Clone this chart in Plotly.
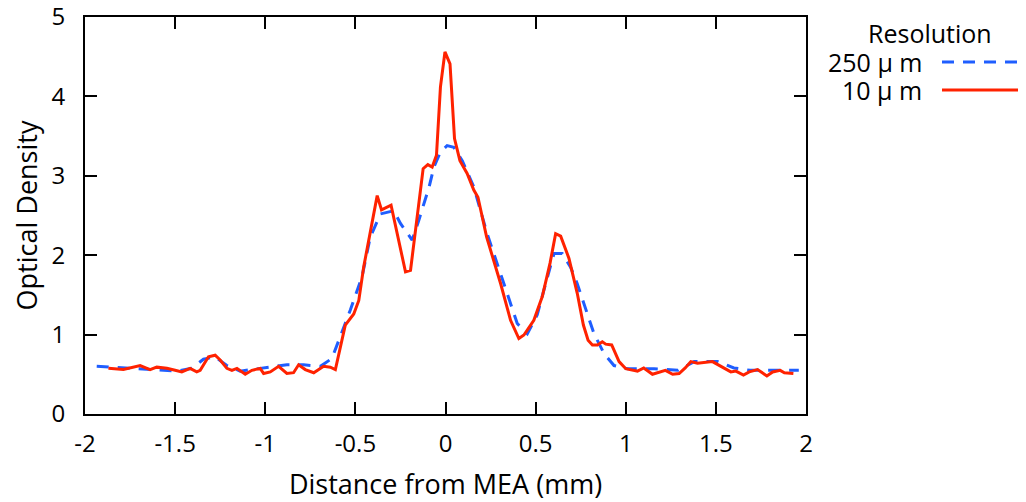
import plotly.graph_objects as go

# 10 um resolution profile (red)
x_10um = [-1.87, -1.787, -1.694, -1.639, -1.602, -1.546, -1.50, -1.463, -1.417, -1.38,
          -1.361, -1.315, -1.278, -1.25, -1.213, -1.185, -1.157, -1.111, -1.074, -1.028,
          -1.009, -0.972, -0.926, -0.88, -0.843, -0.815, -0.778, -0.731, -0.676, -0.639,
          -0.611, -0.556, -0.509, -0.481, -0.454, -0.379, -0.355, -0.302, -0.222, -0.194,
          -0.124, -0.098, -0.074, -0.05, -0.028, -0.003, 0.025, 0.05, 0.08, 0.12,
          0.157, 0.18, 0.228, 0.306, 0.361, 0.407, 0.435, 0.49, 0.537, 0.58,
          0.611, 0.639, 0.685, 0.731, 0.765, 0.791, 0.815, 0.843, 0.87, 0.889,
          0.922, 0.963, 1.0, 1.046, 1.065, 1.10, 1.148, 1.22, 1.26, 1.296,
          1.33, 1.361, 1.398, 1.481, 1.528, 1.583, 1.611, 1.653, 1.685, 1.731,
          1.783, 1.815, 1.857, 1.88, 1.93]
y_10um = [0.575, 0.56, 0.61, 0.56, 0.59, 0.575, 0.55, 0.53, 0.575, 0.53,
          0.55, 0.72, 0.74, 0.68, 0.575, 0.55, 0.575, 0.50, 0.55, 0.575,
          0.51, 0.53, 0.60, 0.51, 0.52, 0.62, 0.56, 0.52, 0.60, 0.59,
          0.56, 1.12, 1.26, 1.43, 1.85, 2.75, 2.57, 2.63, 1.79, 1.81,
          3.09, 3.14, 3.11, 3.26, 4.12, 4.56, 4.41, 3.47, 3.19, 3.03,
          2.82, 2.73, 2.23, 1.64, 1.18, 0.95, 0.995, 1.18, 1.48, 1.90,
          2.27, 2.24, 1.96, 1.52, 1.12, 0.93, 0.87, 0.87, 0.91, 0.88,
          0.87, 0.66, 0.57, 0.55, 0.54, 0.58, 0.50, 0.55, 0.50, 0.51,
          0.58, 0.66, 0.64, 0.66, 0.60, 0.53, 0.54, 0.49, 0.53, 0.56,
          0.48, 0.53, 0.55, 0.52, 0.51]

# 250 um resolution profile (blue dashed)
x_250um = [-1.935, -1.769, -1.491, -1.407, -1.343, -1.278, -1.213, -1.139, -1.028, -0.88,
           -0.787, -0.694, -0.63, -0.583, -0.528, -0.463, -0.417, -0.361, -0.287, -0.25,
           -0.185, -0.148, -0.091, -0.064, -0.028, 0.009, 0.046, 0.093, 0.157, 0.231,
           0.287, 0.343, 0.398, 0.454, 0.509, 0.565, 0.602, 0.648, 0.694, 0.731,
           0.769, 0.824, 0.88, 0.935, 1.009, 1.157, 1.29, 1.38, 1.51, 1.60,
           1.69, 1.96]
y_250um = [0.60, 0.575, 0.54, 0.575, 0.69, 0.72, 0.61, 0.54, 0.575, 0.62,
           0.62, 0.60, 0.70, 0.97, 1.31, 1.73, 2.23, 2.52, 2.56, 2.40,
           2.19, 2.44, 2.86, 3.11, 3.30, 3.38, 3.36, 3.19, 2.86, 2.27,
           1.90, 1.52, 1.14, 1.01, 1.25, 1.72, 2.02, 2.02, 1.85, 1.64,
           1.39, 1.01, 0.76, 0.61, 0.57, 0.57, 0.55, 0.66, 0.66, 0.58,
           0.55, 0.55]

# tick labels (plain hyphen minus, as in the original)
x_ticks = [-2, -1.5, -1, -0.5, 0, 0.5, 1, 1.5, 2]
x_ticktext = ["-2", "-1.5", "-1", "-0.5", "0", "0.5", "1", "1.5", "2"]
y_ticks = [0, 1, 2, 3, 4, 5]

BLUE = "#1f5eff"
RED = "#ff2200"
FONT = "Open Sans, sans-serif"

fig = go.Figure()
fig.add_trace(go.Scatter(x=x_250um, y=y_250um, mode="lines", name="250 µ m",
                         line=dict(color=BLUE, width=3, dash="12px,9px")))
fig.add_trace(go.Scatter(x=x_10um, y=y_10um, mode="lines", name="10 µ m",
                         line=dict(color=RED, width=3)))

axis_common = dict(
    showline=True, linecolor="black", linewidth=2, mirror="allticks",
    ticks="inside", ticklen=12, tickwidth=2, tickcolor="black",
    showgrid=False, zeroline=False, automargin=False,
    ticklabeloverflow="allow",
    tickfont=dict(size=24, color="black"),
)

# the page body has an 8px margin, so the figure is shrunk by that amount
fig.update_layout(
    width=1018, height=494,
    margin=dict(l=77, r=220, t=9, b=88),
    paper_bgcolor="white", plot_bgcolor="white",
    font=dict(family=FONT, color="black"),
    showlegend=False,
    xaxis=dict(range=[-2, 2], tickvals=x_ticks, ticktext=x_ticktext,
               title=dict(text="Distance from MEA (mm)", font=dict(size=27), standoff=27),
               ticklabelstandoff=7, **axis_common),
    yaxis=dict(range=[0, 5], tickvals=y_ticks,
               title=dict(text="Optical Density", font=dict(size=27), standoff=16),
               ticklabelstandoff=13, **axis_common),
)

# hand-drawn legend block on the right (positions in page pixels)
def px(x):
    return (x - 85) / 721

def py(y):
    return (414 - y) / 397

fig.add_annotation(x=px(930), y=py(33), xref="paper", yref="paper", text="Resolution",
                   showarrow=False, font=dict(size=25), xanchor="center", yanchor="middle")
for label, ypos, color, dash in [("250 µ m", 62, BLUE, "12px,9px"), ("10 µ m", 90, RED, "solid")]:
    fig.add_annotation(x=px(924), y=py(ypos), xref="paper", yref="paper", text=label,
                       showarrow=False, font=dict(size=25), xanchor="right", yanchor="middle")
    fig.add_shape(type="line", xref="paper", yref="paper", x0=px(942), x1=px(1030),
                  y0=py(ypos), y1=py(ypos), line=dict(color=color, width=3, dash=dash))

fig.write_html("out.html")
